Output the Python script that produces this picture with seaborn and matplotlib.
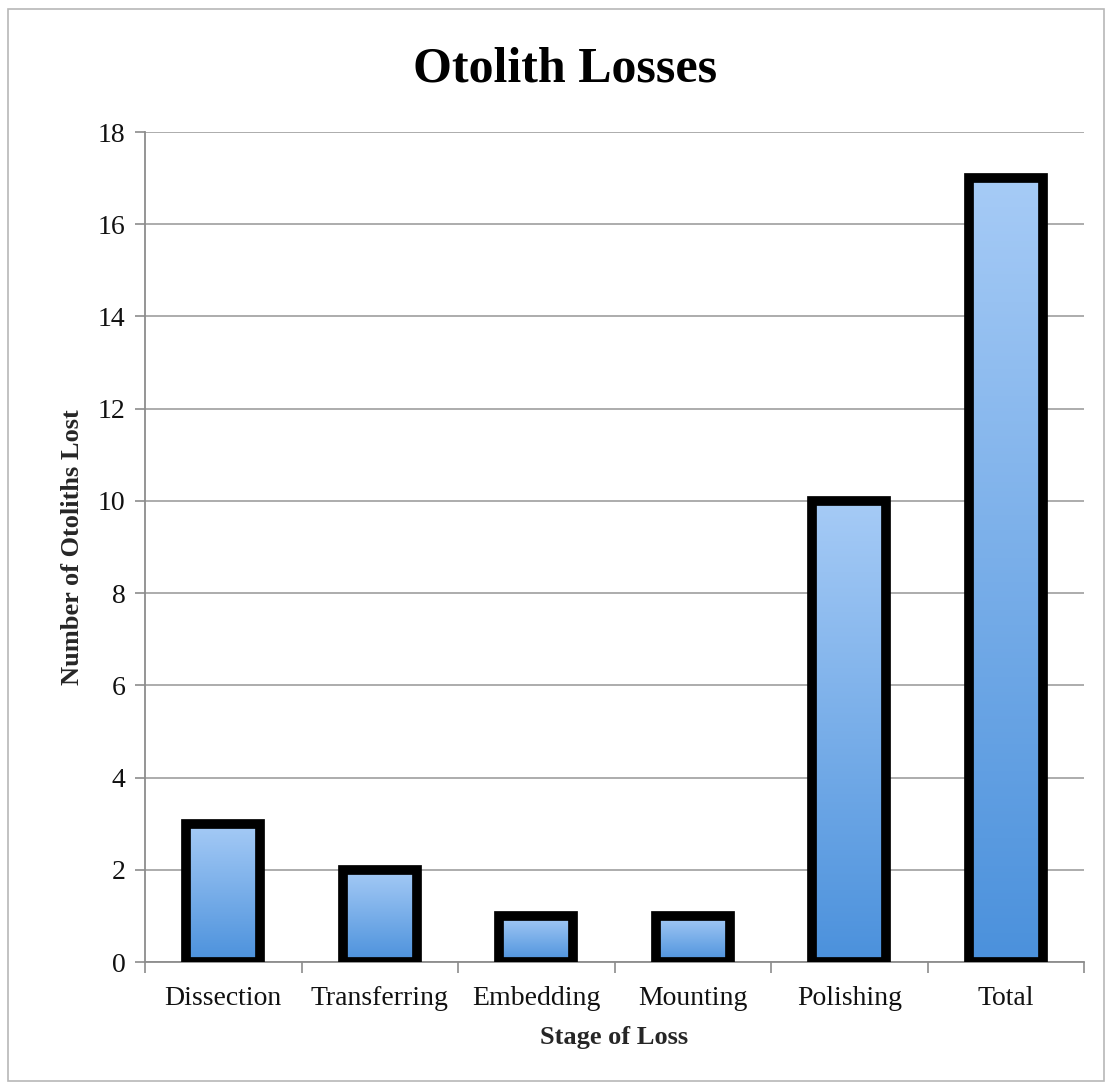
import numpy as np
import matplotlib
matplotlib.use("Agg")
import matplotlib.pyplot as plt
from matplotlib.colors import LinearSegmentedColormap
from matplotlib.patches import Rectangle
import seaborn as sns

stages = ["Dissection", "Transferring", "Embedding", "Mounting", "Polishing", "Total"]
counts = [3, 2, 1, 1, 10, 17]
y_ticks = [0, 2, 4, 6, 8, 10, 12, 14, 16, 18]

sns.set_theme(style="white")
plt.rcParams["font.family"] = ["Liberation Serif", "DejaVu Serif"]

W, H = 1110, 1085
fig = plt.figure(figsize=(W / 100, H / 100), dpi=100)
ax = fig.add_axes([145 / W, 1 - 962 / H, (1084 - 145) / W, (962 - 132) / H])

sns.barplot(x=stages, y=counts, ax=ax, width=0.47, color="#6aa6e8",
            edgecolor="black", linewidth=7, saturation=1)

# vertical blue gradient inside each bar, light at top, deeper at bottom
grad_cmap = LinearSegmentedColormap.from_list("bar_grad", ["#4b91dc", "#a6cbf6"])
grad = np.linspace(0, 1, 256).reshape(-1, 1)
for patch in ax.patches:
    x0, y0 = patch.get_x(), patch.get_y()
    w, h = patch.get_width(), patch.get_height()
    patch.set_facecolor("none")
    patch.set_zorder(3)
    im = ax.imshow(grad, cmap=grad_cmap, aspect="auto", origin="lower",
                   extent=[x0, x0 + w, y0, y0 + h], zorder=2.5, interpolation="bilinear")
    im.set_clip_path(patch)

ax.set_xlim(-0.5, len(stages) - 0.5)
ax.set_ylim(0, 18)
ax.set_yticks(y_ticks)
ax.set_aspect("auto")

ax.set_axisbelow(True)
ax.yaxis.grid(True, color="#a6a6a6", linewidth=1.3)
ax.xaxis.grid(False)
for side in ["top", "right"]:
    ax.spines[side].set_visible(False)
for side in ["left", "bottom"]:
    ax.spines[side].set_color("#8c8c8c")
    ax.spines[side].set_linewidth(1.3)

ax.set_xticks(np.arange(-0.5, len(stages), 1.0), minor=True)
ax.tick_params(axis="x", which="minor", direction="out", length=8, width=1.2,
               color="#8c8c8c", bottom=True)
ax.tick_params(axis="x", which="major", length=0, pad=17, labelsize=20,
               labelcolor="#111111")
ax.tick_params(axis="y", which="major", direction="out", length=7, width=1.2,
               color="#8c8c8c", left=True, pad=7, labelsize=20, labelcolor="#111111")

ax.set_xlabel("Stage of Loss", fontsize=19, fontweight="bold", labelpad=11)
ax.set_ylabel("Number of Otoliths Lost", fontsize=19, fontweight="bold", labelpad=10)

fig.text(565 / W, 1 - 70 / H, "Otolith Losses", ha="center", va="center",
         fontsize=36, fontweight="bold", color="black")

fig.patches.append(Rectangle((8 / W, 4 / H), (1104 - 8) / W, (1076 - 4) / H,
                             transform=fig.transFigure, fill=False,
                             edgecolor="#b8b8b8", linewidth=1.2))

fig.savefig("out.png", dpi=100, facecolor="white")
